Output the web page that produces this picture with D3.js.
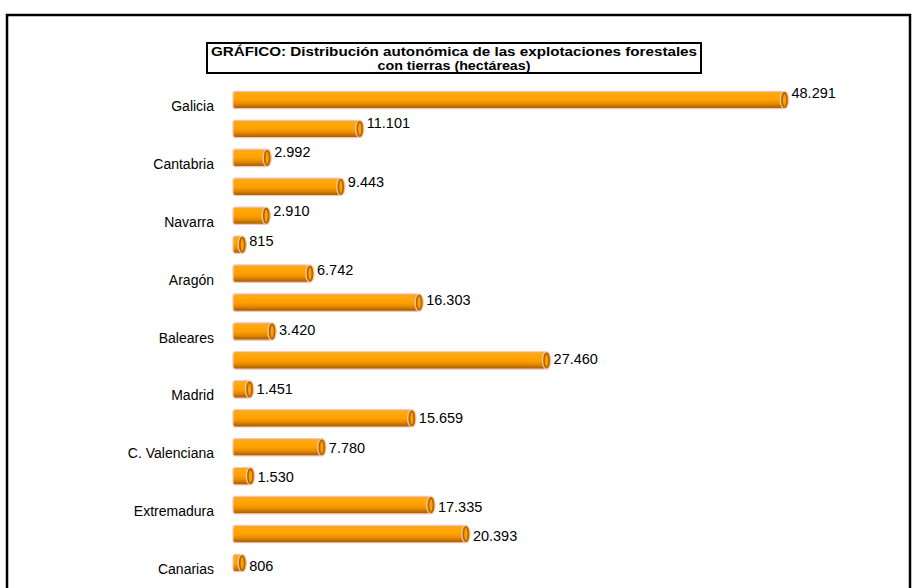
<!DOCTYPE html>
<html>
<head>
<meta charset="utf-8">
<script src="https://cdn.jsdelivr.net/npm/d3@7/dist/d3.min.js"></script>
<style>
  html, body { margin: 0; padding: 0; background: #fff; }
  svg { display: block; }
</style>
</head>
<body>
<svg id="chart" width="912" height="588"></svg>
<script>
const categories = ["Galicia", "Asturias", "Cantabria", "País Vasco", "Navarra", "La Rioja", "Aragón", "Cataluña", "Baleares", "Castilla y León", "Madrid", "Castilla-La Mancha", "C. Valenciana", "Murcia", "Extremadura", "Andalucía", "Canarias"];
const values = [48291, 11101, 2992, 9443, 2910, 815, 6742, 16303, 3420, 27460, 1451, 15659, 7780, 1530, 17335, 20393, 806];
const shownLabels = ["Galicia", "Cantabria", "Navarra", "Aragón", "Baleares", "Madrid", "C. Valenciana", "Extremadura", "Canarias"];
const titleLines = ["GRÁFICO: Distribución autonómica de las explotaciones forestales", "con tierras (hectáreas)"];

const svg = d3.select("#chart");
const fmt = v => d3.format(",")(v).replace(/,/g, ".");

// outer frame
svg.append("rect").attr("x", 7).attr("y", 15).attr("width", 903).attr("height", 620)
  .attr("fill", "none").attr("stroke", "#000").attr("stroke-width", 2.5);

// title box
svg.append("rect").attr("x", 207).attr("y", 43).attr("width", 494).attr("height", 30)
  .attr("fill", "#fff").attr("stroke", "#000").attr("stroke-width", 2);
const titleWidths = [486, 153];
svg.append("g").selectAll("text").data(titleLines).join("text")
  .attr("x", 454).attr("y", (d, i) => 56 + i * 13.5)
  .attr("text-anchor", "middle")
  .attr("font-family", "Arial, 'Liberation Sans', sans-serif")
  .attr("font-weight", "bold").attr("font-size", 13.5)
  .attr("textLength", (d, i) => titleWidths[i])
  .attr("lengthAdjust", "spacingAndGlyphs")
  .text(d => d);

const x = d3.scaleLinear().domain([0, 50000]).range([233, 804]);
const y = d3.scaleBand().domain(categories).range([85.5, 577.5]).paddingInner(0.4).paddingOuter(0.2);

const defs = svg.append("defs");
const grad = defs.append("linearGradient").attr("id", "cyl").attr("x1", 0).attr("y1", 0).attr("x2", 0).attr("y2", 1);
[[0, "#f2a030"], [0.12, "#ffaa10"], [0.5, "#ffa000"], [0.72, "#e58a00"], [0.9, "#b56a00"], [1, "#a06010"]]
  .forEach(([o, c]) => grad.append("stop").attr("offset", o).attr("stop-color", c));

const bars = svg.append("g");
const bh = y.bandwidth();
categories.forEach((c, i) => {
  const v = values[i];
  const y0 = y(c);
  const xe = x(v);
  const g = bars.append("g");
  g.append("rect").attr("x", x(0)).attr("y", y0).attr("width", Math.max(xe - x(0), 0.5)).attr("height", bh)
    .attr("rx", 2.5).attr("ry", 2.5)
    .attr("fill", "url(#cyl)").attr("stroke", "#f7c4b8").attr("stroke-width", 1.2);
  g.append("ellipse").attr("cx", xe).attr("cy", y0 + bh / 2).attr("rx", 4.2).attr("ry", bh / 2)
    .attr("fill", "#ffa200").attr("stroke", "#f7c4b8").attr("stroke-width", 1.2);
  g.append("ellipse").attr("cx", xe).attr("cy", y0 + bh / 2).attr("rx", 2.4).attr("ry", bh / 2 - 1.6)
    .attr("fill", "#ff9e00").attr("stroke", "#b06800").attr("stroke-width", 1.6);
});

// value labels
const n = categories.length;
svg.append("g").selectAll("text").data(categories).join("text")
  .attr("x", (d, i) => x(values[i]) + 7)
  .attr("y", (d, i) => y(d) + bh / 2 + 5 - 7 + i * (10 / (n - 1)))
  .attr("font-family", "Arial, 'Liberation Sans', sans-serif")
  .attr("font-size", 14.5).attr("fill", "#000")
  .text((d, i) => fmt(values[i]));

// category labels (every other)
svg.append("g").selectAll("text").data(shownLabels).join("text")
  .attr("x", 214)
  .attr("y", d => y(d) + bh / 2 + 6 + 5)
  .attr("text-anchor", "end")
  .attr("font-family", "Arial, 'Liberation Sans', sans-serif")
  .attr("font-size", 14).attr("fill", "#000")
  .text(d => d);
</script>
</body>
</html>
